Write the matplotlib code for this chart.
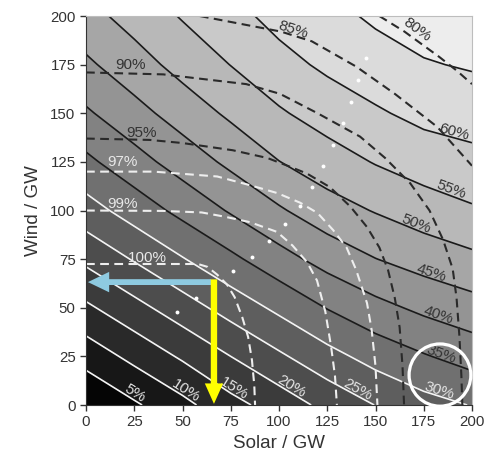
import numpy as np
import matplotlib
matplotlib.use('Agg')
import matplotlib.pyplot as plt
from matplotlib.patches import Ellipse
from matplotlib.transforms import ScaledTranslation

plt.rcParams['font.family'] = ['Liberation Sans', 'DejaVu Sans']

# grid of installed capacity (GW)
solar_gw = [0, 25, 50, 75, 100, 125, 150, 175, 200]
wind_gw = [0, 25, 50, 75, 100, 125, 150, 175, 200]

# renewable share of demand in %, rows = wind, columns = solar
share_pct = [
    [0.0, 4.3, 8.6, 13.4, 17.2, 21.4, 25.1, 28.2, 30.2],
    [7.0, 11.4, 15.7, 20.0, 24.2, 28.3, 31.9, 34.6, 37.0],
    [14.1, 18.4, 22.7, 27.0, 31.1, 35.2, 38.5, 41.1, 43.1],
    [21.1, 25.4, 29.7, 33.9, 38.1, 41.9, 44.9, 47.1, 48.9],
    [27.9, 32.2, 36.4, 40.5, 44.4, 47.9, 50.3, 52.5, 54.4],
    [33.9, 38.1, 42.2, 46.1, 49.9, 52.7, 55.3, 57.4, 58.7],
    [39.3, 43.3, 47.2, 50.9, 54.4, 57.2, 59.4, 61.3, 62.0],
    [44.1, 47.9, 51.7, 55.1, 58.4, 60.9, 62.8, 64.6, 65.5],
    [48.3, 51.9, 55.4, 58.5, 61.5, 63.5, 65.8, 67.4, 68.8],
]

# utilisation of renewable output (dashed lines), (solar, wind) along each line
usage_100 = [(0, 72.5), (58, 72.5), (63, 71), (68, 67), (73, 62), (77, 55.5), (81, 45),
             (84, 35), (86, 23), (87.2, 10), (87.6, 0)]
usage_99 = [(0, 100), (40, 99.8), (60, 99), (72, 96.8), (85, 94), (99, 89), (107, 82),
            (114.5, 73.5), (119.7, 64), (124, 48), (127, 30), (129, 15), (130, 0)]
usage_97 = [(0, 120), (35, 120), (68, 117.5), (85, 113), (99, 109), (111, 104), (120, 98.7),
            (128, 90), (135, 81), (140, 69.4), (145.6, 52.4), (148, 38.6), (150, 20), (151, 0)]
usage_95 = [(0, 137), (33, 136.3), (50, 134.7), (76, 131), (94, 127), (106, 122.4), (114.5, 119),
            (126.4, 112), (137, 102), (145.6, 91.5), (152, 81), (156.5, 69.4), (160, 55),
            (162.5, 40), (164, 20), (164.8, 0)]
usage_90 = [(0, 171), (40, 170), (83, 165), (100.5, 160), (120, 150), (142, 138), (155, 127),
            (168, 114), (178, 100), (185, 85), (190, 70), (192, 55), (193.5, 35), (194.5, 15), (195, 0)]
usage_85 = [(59, 200), (80, 196), (101, 192), (117, 187), (140, 174), (160, 160), (182, 143), (200, 123)]
usage_80 = [(152, 200), (165, 192), (183, 179), (192, 172), (200, 165)]

usage_lines = [usage_100, usage_99, usage_97, usage_95, usage_90, usage_85, usage_80]
usage_names = ['100%', '99%', '97%', '95%', '90%', '85%', '80%']

# least-cost mix points
mix_solar = [47.2, 57.0, 76.2, 86.0, 94.8, 103.1, 110.9, 117.1, 122.8, 128.0, 133.2, 137.3, 140.9, 145.1]
mix_wind = [47.8, 55.0, 68.9, 76.1, 84.3, 93.1, 102.3, 112.1, 122.9, 133.7, 145.0, 155.8, 167.1, 178.4]

# highlighted example
example_solar = 66.3
example_wind = 63.2
circle_solar = 183.4
circle_wind = 15.4


fig = plt.figure(figsize=(4.87, 4.58), dpi=100)
ax = fig.add_axes([0.1766, 0.1157, 0.7926, 0.8493])

S, W = np.meshgrid(solar_gw, wind_gw)
Z = np.array(share_pct)

fill_levels = np.arange(0, 75, 5)
greys = [str(round(g, 3)) for g in np.linspace(0.02, 0.93, len(fill_levels) - 1)]
ax.contourf(S, W, Z, levels=fill_levels, colors=greys)

white_levels = [5, 10, 15, 20, 25, 30]
black_levels = [35, 40, 45, 50, 55, 60, 65]
cs_w = ax.contour(S, W, Z, levels=white_levels, colors='#f4f4f4', linewidths=1.2)
cs_b = ax.contour(S, W, Z, levels=black_levels, colors='#1a1a1a', linewidths=1.2)

fmt = lambda v: f'{v:.0f}%'
lab_w = ax.clabel(cs_w, white_levels, inline=False, fontsize=11, colors='#e4e4e4', fmt=fmt,
                  manual=[(25.7, 6.8), (52.5, 8.1), (77.7, 9.8), (106.6, 9.8), (141.1, 8.9), (183.9, 9.9)])
lab_b = ax.clabel(cs_b, black_levels[:-1], inline=False, fontsize=11, colors='#333333', fmt=fmt,
                  manual=[(184.8, 27.9), (182.9, 47.1), (179.1, 67.7), (171, 92.9), (189.5, 111.4), (191.2, 142.3)])
for t in list(lab_w) + list(lab_b):
    rot = np.deg2rad(t.get_rotation())
    d = 0.055
    t.set_transform(t.get_transform() + ScaledTranslation(-np.sin(rot) * d, np.cos(rot) * d, fig.dpi_scale_trans))

# dashed utilisation lines
for i, (line, name) in enumerate(zip(usage_lines, usage_names)):
    xs = [p[0] for p in line]
    ys = [p[1] for p in line]
    c = '#eeeeee' if i < 3 else '#2a2a2a'
    ax.plot(xs, ys, color=c, lw=1.5, ls=(0, (4.2, 2.6)), dash_capstyle='butt')

usage_label_pos = [(31.9, 75.8, 0), (18.7, 103.3, 0), (18.9, 124.7, 0), (28.5, 140.0, 0),
                   (23.3, 174.8, 0), (107.3, 193.0, -18), (171.5, 193.0, -36)]
for i, (name, (x, y, r)) in enumerate(zip(usage_names, usage_label_pos)):
    c = '#e8e8e8' if i < 3 else '#333333'
    ax.text(x, y, name, fontsize=11, color=c, ha='center', va='center', rotation=r,
            rotation_mode='anchor')

ax.plot(mix_solar, mix_wind, 'o', ms=2.8, color='white', mec='none')

ax.arrow(example_solar - 1.5, example_wind, -(example_solar - 2.5), 0, width=3.0, head_width=10.5,
         head_length=11, length_includes_head=True, fc='#8ecae0', ec='none', zorder=5)
ax.arrow(example_solar, example_wind + 1.4, 0, -(example_wind + 0.8), width=3.3, head_width=9.5,
         head_length=10.5, length_includes_head=True, fc='#ffff00', ec='none', zorder=6)

ax.add_patch(Ellipse((circle_solar, circle_wind), 32, 32, fill=False, ec='white', lw=2.3,
                     clip_on=False, zorder=7))

ax.set_xlim(0, 200)
ax.set_ylim(0, 200)
ax.set_xticks(range(0, 201, 25))
ax.set_yticks(range(0, 201, 25))
ax.tick_params(direction='out', length=4.5, width=1, colors='#333333', labelsize=10.8, pad=3)
for side in ['left', 'bottom']:
    ax.spines[side].set_color('#333333')
for side in ['top', 'right']:
    ax.spines[side].set_color('#bdbdbd')
    ax.spines[side].set_linewidth(0.8)

ax.set_xlabel('Solar / GW', fontsize=13.5, color='#333333', labelpad=4)
ax.set_ylabel('Wind / GW', fontsize=13.5, color='#333333', labelpad=6)

fig.savefig('out.png', dpi=100)
